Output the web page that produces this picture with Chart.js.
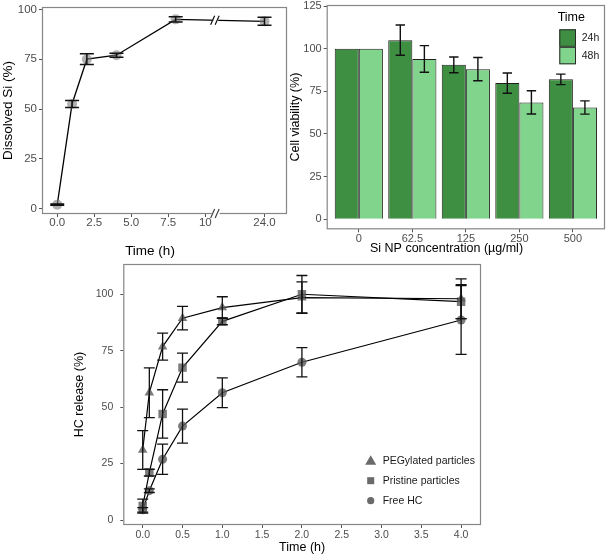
<!DOCTYPE html>
<html>
<head>
<meta charset="utf-8">
<title>Si dissolution, cell viability and HC release</title>
<style>
    body { margin: 0; background: #fff; width: 609px; height: 557px; position: relative; overflow: hidden; }
    canvas { position: absolute; }
    #chartA { left: 0; top: 0; }
    #chartB { left: 288px; top: 0; }
    #chartC { left: 72px; top: 254px; }
</style>
</head>
<body>
<canvas id="chartA" width="300" height="262"></canvas>
<canvas id="chartB" width="321" height="262"></canvas>
<canvas id="chartC" width="460" height="303"></canvas>

<script src="https://cdn.jsdelivr.net/npm/chart.js"></script>
<script>
    // Panel A - dissolved Si vs time (axis broken between 10 and 24 h)
    const timeA = [0, 1, 2, 4, 8, 24];
    const dissolvedSi = [2, 52.5, 75, 77, 95, 94];
    const dissolvedSiErr = [0.3, 1.8, 2.7, 1, 1.3, 2];
    const tickTimesA = [0, 2.5, 5, 7.5, 10, 24];
    const tickLabelsA = ['0.0', '2.5', '5.0', '7.5', '10', '24.0'];
    const ticksPct = [0, 25, 50, 75, 100];

    // Panel B - cell viability
    const concentrations = ['0', '62.5', '125', '250', '500'];
    const viability24 = [100, 105, 90.5, 79.8, 82];
    const viability24Err = [0, 8.9, 4.6, 5.9, 3.1];
    const viability48 = [100, 94, 88, 68.5, 65.5];
    const viability48Err = [0, 7.8, 6.8, 6.8, 3.9];
    const ticksViability = [0, 25, 50, 75, 100, 125];

    // Panel C - HC release
    const timeC = [0, 0.083, 0.25, 0.5, 1, 2, 4];
    const pegylated = [31, 56.4, 76.8, 89.4, 94.1, 98.5, 98];
    const pegylatedErr = [8.6, 11, 6, 5.2, 4.8, 7, 8.8];
    const pristine = [6.2, 21, 47, 67.5, 88, 100, 96.7];
    const pristineErr = [3.1, 1.5, 10.7, 6.4, 1.5, 8.3, 7.5];
    const freeHC = [4.5, 13, 26.9, 41.6, 56.4, 69.9, 88.6];
    const freeHCErr = [1, 0.8, 6.7, 7.5, 6.6, 6.5, 15.2];
    const ticksTimeC = [0, 0.5, 1, 1.5, 2, 2.5, 3, 3.5, 4];

    const FONT = "'Liberation Sans', Arial, sans-serif";
    Chart.defaults.font.family = FONT;
    Chart.defaults.color = '#4d4d4d';

    // hours cut out of the axis at the break
    const hoursCut = 10;
    function axisA(t) { return t > 10 ? t - hoursCut : t; }

    // grey frame round the panel
    const panelBox = {
        id: 'panelBox',
        beforeDatasetsDraw(chart) {
            const a = chart.chartArea, ctx = chart.ctx;
            ctx.save();
            ctx.strokeStyle = '#868686';
            ctx.lineWidth = 1.2;
            ctx.strokeRect(a.left + 0.5, a.top + 0.5, a.right - a.left - 1, a.bottom - a.top - 1);
            ctx.restore();
        }
    };

    // error bars from dataset.errors
    const errorBars = {
        id: 'errorBars',
        afterDatasetsDraw(chart, args, opts) {
            const ctx = chart.ctx;
            chart.data.datasets.forEach((ds, i) => {
                if (!ds.errors) return;
                const meta = chart.getDatasetMeta(i);
                const ys = chart.scales[meta.yAxisID];
                ctx.save();
                ctx.strokeStyle = '#111';
                ctx.lineWidth = opts.width;
                meta.data.forEach((el, j) => {
                    const e = ds.errors[j];
                    if (!e) return;
                    const v = ds.data[j].y;
                    const top = ys.getPixelForValue(v + e);
                    const bot = ys.getPixelForValue(v - e);
                    const hw = opts.cap;
                    ctx.beginPath();
                    ctx.moveTo(el.x, top); ctx.lineTo(el.x, bot);
                    ctx.moveTo(el.x - hw, top); ctx.lineTo(el.x + hw, top);
                    ctx.moveTo(el.x - hw, bot); ctx.lineTo(el.x + hw, bot);
                    ctx.stroke();
                });
                ctx.restore();
            });
        }
    };

    // "//" marks on the line and on the x axis
    const axisBreak = {
        id: 'axisBreak',
        afterDraw(chart, args, opts) {
            const ctx = chart.ctx, xs = chart.scales.x, a = chart.chartArea;
            const bx = xs.getPixelForValue(opts.at);
            const pts = chart.getDatasetMeta(0).data;
            const p0 = pts[opts.after], p1 = pts[opts.after + 1];
            const ly = p0.y + (p1.y - p0.y) * (bx - p0.x) / (p1.x - p0.x);
            const mark = (y, gap, color) => {
                ctx.fillStyle = '#fff';
                ctx.fillRect(bx - gap, y - 2, gap * 2, 4);
                ctx.strokeStyle = color;
                ctx.lineWidth = 1.2;
                ctx.beginPath();
                [-3.5, 1].forEach(o => {
                    ctx.moveTo(bx + o - 1.5, y + 4.5);
                    ctx.lineTo(bx + o + 2.5, y - 4.5);
                });
                ctx.stroke();
            };
            ctx.save();
            mark(ly, 2.5, '#111');
            mark(a.bottom - 0.5, 4, '#444');
            ctx.restore();
        }
    };

    const timeLegend = {
        id: 'timeLegend',
        afterDraw(chart) {
            const ctx = chart.ctx, a = chart.chartArea;
            const x0 = a.right - 45.7, y0 = a.top + 24.3;
            ctx.save();
            ctx.fillStyle = '#000';
            ctx.font = `12.5px ${FONT}`;
            ctx.textAlign = 'center';
            ctx.textBaseline = 'middle';
            ctx.fillText('Time', x0 + 12, a.top + 12.5);
            chart.data.datasets.forEach((ds, i) => {
                const y = y0 + i * 17.5;
                ctx.fillStyle = ds.backgroundColor;
                ctx.fillRect(x0, y, 16.7, 17.5);
                ctx.strokeStyle = '#2a2a2a';
                ctx.lineWidth = 1;
                ctx.strokeRect(x0 + 0.5, y + 0.5, 15.7, 16.5);
                ctx.fillStyle = '#1a1a1a';
                ctx.font = `10.5px ${FONT}`;
                ctx.textAlign = 'left';
                ctx.fillText(ds.label, x0 + 22.4, y + 9);
            });
            ctx.restore();
        }
    };

    const markerLegend = {
        id: 'markerLegend',
        afterDraw(chart) {
            const ctx = chart.ctx, a = chart.chartArea;
            const x = a.right - 110.3;
            ctx.save();
            chart.data.datasets.forEach((ds, i) => {
                const y = a.bottom - 64.3 + i * 20;
                ctx.fillStyle = '#6a6a6a';
                ctx.beginPath();
                if (ds.pointStyle === 'triangle') {
                    ctx.moveTo(x, y - 5.5); ctx.lineTo(x + 5.5, y + 4); ctx.lineTo(x - 5.5, y + 4);
                    ctx.closePath();
                } else if (ds.pointStyle === 'rect') {
                    ctx.rect(x - 3.5, y - 3.5, 7, 7);
                } else {
                    ctx.arc(x, y, 3.6, 0, Math.PI * 2);
                }
                ctx.fill();
                ctx.fillStyle = '#1a1a1a';
                ctx.font = `10.5px ${FONT}`;
                ctx.textAlign = 'left';
                ctx.textBaseline = 'middle';
                ctx.fillText(ds.label, x + 12, y);
            });
            ctx.restore();
        }
    };

    const tickFont = { size: 11.5 };
    const tickGrid = { display: true, drawOnChartArea: false, drawTicks: true, tickLength: 3, color: '#555' };

    // Chart A
    new Chart(document.getElementById('chartA'), {
        type: 'line',
        data: {
            datasets: [{
                data: timeA.map((t, i) => ({ x: axisA(t), y: dissolvedSi[i] })),
                errors: dissolvedSiErr,
                borderColor: '#000',
                borderWidth: 1.3,
                pointRadius: 5,
                pointBorderWidth: 0,
                pointBackgroundColor: 'rgba(125,125,125,0.6)',
                tension: 0
            }]
        },
        options: {
            animation: false,
            responsive: false,
            devicePixelRatio: 1,
            layout: { padding: { left: 0, top: 7, right: 0, bottom: 0 } },
            plugins: {
                legend: { display: false },
                tooltip: { enabled: false },
                title: {
                    display: true, text: 'Time (h)', position: 'bottom', color: '#000',
                    font: { size: 13.5, weight: 'normal' }, padding: { top: 0, bottom: 3 }
                },
                errorBars: { cap: 7, width: 1.5 },
                axisBreak: { at: 10.7, after: 4 }
            },
            scales: {
                x: {
                    type: 'linear', min: -1.03, max: 15.52,
                    afterBuildTicks: s => { s.ticks = tickTimesA.map(t => ({ value: axisA(t) })); },
                    afterFit: s => { s.height = 28.8; s.paddingLeft = 0; s.paddingRight = 0; },
                    ticks: { font: tickFont, padding: -1, maxRotation: 0, callback: (v, i) => tickLabelsA[i] },
                    grid: tickGrid,
                    border: { display: false }
                },
                y: {
                    min: -2.7, max: 101.2,
                    afterBuildTicks: s => { s.ticks = ticksPct.map(v => ({ value: v })); },
                    afterFit: s => { s.width = 42; s.paddingTop = 0; s.paddingBottom = 0; },
                    ticks: { font: tickFont, padding: 2 },
                    grid: tickGrid,
                    border: { display: false },
                    title: { display: true, text: 'Dissolved Si (%)', color: '#000', font: { size: 13.5 }, padding: 0 }
                },
                // empty strip on the right so the bottom title is centred on the whole panel
                yRight: {
                    position: 'right',
                    ticks: { display: false },
                    grid: { display: false },
                    border: { display: false },
                    afterFit: s => { s.width = 13; s.paddingTop = 0; s.paddingBottom = 0; }
                }
            }
        },
        plugins: [panelBox, errorBars, axisBreak]
    });

    // Chart B
    new Chart(document.getElementById('chartB'), {
        type: 'bar',
        data: {
            datasets: [{
                label: '24h',
                data: concentrations.map((c, i) => ({ x: i, y: viability24[i] })),
                errors: viability24Err,
                backgroundColor: '#3f8f43',
                borderColor: '#1f1f1f',
                borderWidth: 1,
                barPercentage: 1,
                categoryPercentage: 0.9
            }, {
                label: '48h',
                data: concentrations.map((c, i) => ({ x: i, y: viability48[i] })),
                errors: viability48Err,
                backgroundColor: '#80d48b',
                borderColor: '#1f1f1f',
                borderWidth: 1,
                barPercentage: 1,
                categoryPercentage: 0.9
            }]
        },
        options: {
            animation: false,
            responsive: false,
            devicePixelRatio: 1,
            layout: { padding: { left: 0, top: 5, right: 4, bottom: 0 } },
            plugins: {
                legend: { display: false },
                tooltip: { enabled: false },
                title: {
                    display: true, text: 'Si NP concentration (µg/ml)', position: 'bottom', color: '#000',
                    font: { size: 12.5, weight: 'normal' }, padding: { top: -8, bottom: 6 }
                },
                errorBars: { cap: 4.7, width: 1.4 }
            },
            scales: {
                x: {
                    type: 'linear', min: -0.6, max: 4.6, offset: false,
                    afterBuildTicks: s => { s.ticks = concentrations.map((c, i) => ({ value: i })); },
                    afterFit: s => { s.height = 19.7; s.paddingLeft = 0; s.paddingRight = 0; },
                    ticks: { font: { size: 11 }, padding: 0, maxRotation: 0, callback: (v, i) => concentrations[i] },
                    grid: Object.assign({ offset: false }, tickGrid),
                    border: { display: false }
                },
                y: {
                    min: -5.9, max: 125.6,
                    afterBuildTicks: s => { s.ticks = ticksViability.map(v => ({ value: v })); },
                    afterFit: s => { s.width = 38.7; s.paddingTop = 0; s.paddingBottom = 0; },
                    ticks: { font: { size: 11 }, padding: 2 },
                    grid: tickGrid,
                    border: { display: false },
                    title: { display: true, text: 'Cell viability (%)', color: '#000', font: { size: 12.5 }, padding: 0 }
                }
            }
        },
        plugins: [panelBox, errorBars, timeLegend]
    });

    // Chart C
    const lineStyle = {
        borderColor: '#000',
        borderWidth: 1.2,
        pointBorderWidth: 0,
        pointBackgroundColor: 'rgba(90,90,90,0.8)',
        tension: 0
    };
    new Chart(document.getElementById('chartC'), {
        type: 'line',
        data: {
            datasets: [
                Object.assign({
                    label: 'PEGylated particles', pointStyle: 'triangle', pointRadius: 5.5,
                    data: timeC.map((t, i) => ({ x: t, y: pegylated[i] })), errors: pegylatedErr
                }, lineStyle),
                Object.assign({
                    label: 'Pristine particles', pointStyle: 'rect', pointRadius: 6,
                    data: timeC.map((t, i) => ({ x: t, y: pristine[i] })), errors: pristineErr
                }, lineStyle),
                Object.assign({
                    label: 'Free HC', pointStyle: 'circle', pointRadius: 4.5,
                    data: timeC.map((t, i) => ({ x: t, y: freeHC[i] })), errors: freeHCErr
                }, lineStyle)
            ]
        },
        options: {
            animation: false,
            responsive: false,
            devicePixelRatio: 1,
            layout: { padding: { left: 0, top: 10, right: 51, bottom: 0 } },
            plugins: {
                legend: { display: false },
                tooltip: { enabled: false },
                errorBars: { cap: 5.5, width: 1.3 }
            },
            scales: {
                x: {
                    type: 'linear', min: -0.244, max: 4.25,
                    afterBuildTicks: s => { s.ticks = ticksTimeC.map(v => ({ value: v })); },
                    afterFit: s => { s.height = 32; s.paddingLeft = 0; s.paddingRight = 0; },
                    ticks: { font: { size: 10.5 }, padding: 1, maxRotation: 0, callback: v => v.toFixed(1) },
                    grid: tickGrid,
                    border: { display: false },
                    title: { display: true, text: 'Time (h)', color: '#000', font: { size: 12.5 }, padding: { top: 0, bottom: 2 } }
                },
                y: {
                    min: -2.2, max: 113.4,
                    afterBuildTicks: s => { s.ticks = ticksPct.map(v => ({ value: v })); },
                    afterFit: s => { s.width = 51.3; s.paddingTop = 0; s.paddingBottom = 0; },
                    ticks: { font: { size: 10.5 }, padding: 7 },
                    grid: tickGrid,
                    border: { display: false },
                    title: { display: true, text: 'HC release (%)', color: '#000', font: { size: 12.5 }, padding: 0 }
                }
            }
        },
        plugins: [panelBox, errorBars, markerLegend]
    });
</script>
</body>
</html>
